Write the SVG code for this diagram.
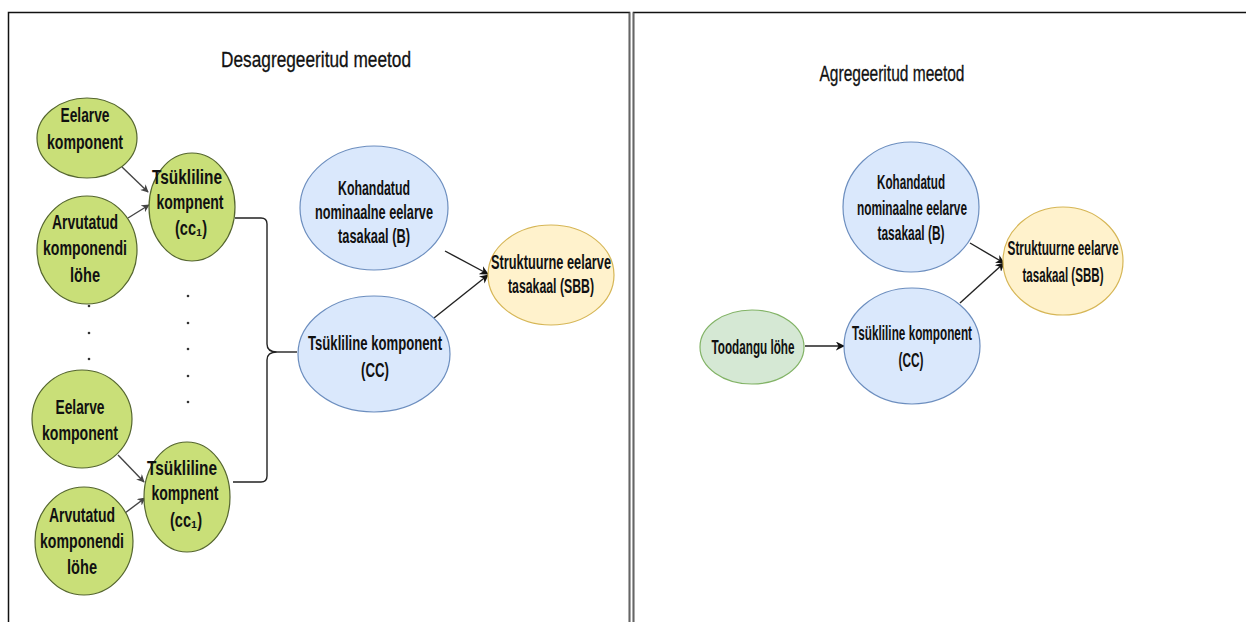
<svg xmlns="http://www.w3.org/2000/svg" width="1246" height="622" viewBox="0 0 1246 622">
<style>
.t{font-family:"Liberation Sans",Arial,sans-serif;font-size:20px;font-weight:bold;fill:#111;text-anchor:middle}
.title{font-family:"Liberation Sans",Arial,sans-serif;font-size:22px;fill:#111;text-anchor:middle;stroke:#111;stroke-width:0.3}
.lime{fill:#c9df78;stroke:#55662f;stroke-width:1.2}
.grn{fill:#d5e8d4;stroke:#82b366;stroke-width:1.2}
.blue{fill:#dae8fc;stroke:#6c8ebf;stroke-width:1.2}
.yel{fill:#fff2cc;stroke:#d6b656;stroke-width:1.2}
.ln{fill:none;stroke:#444;stroke-width:1.4}
.lnk{fill:none;stroke:#222;stroke-width:1.4}
.dot{fill:#333}
</style>
<defs>
<marker id="ah" viewBox="0 0 10 10" refX="9" refY="5" markerWidth="8" markerHeight="8" markerUnits="userSpaceOnUse" orient="auto">
<path d="M0,0 L10,5 L0,10 L3,5 z" fill="#444"/>
</marker>
<marker id="ahk" viewBox="0 0 10 10" refX="9" refY="5" markerWidth="9" markerHeight="9" markerUnits="userSpaceOnUse" orient="auto">
<path d="M0,0 L10,5 L0,10 L3,5 z" fill="#111"/>
</marker>
</defs>
<rect width="1246" height="622" fill="#fff"/>
<g id="frames">
<path d="M8.5,622 V12.5 H629.5 V622" fill="none" stroke="#111" stroke-width="1.5"/>
<path d="M629.5,12.5 V622" fill="none" stroke="#666" stroke-width="1.5"/>
<path d="M633.5,622 V12.5 H1246" fill="none" stroke="#111" stroke-width="1.5"/>
<path d="M633.5,12.5 V622" fill="none" stroke="#666" stroke-width="1.5"/>
</g>
<g id="titles">
<text class="title" x="316" y="67" textLength="190" lengthAdjust="spacingAndGlyphs">Desagregeeritud meetod</text>
<text class="title" x="892" y="81" textLength="145" lengthAdjust="spacingAndGlyphs">Agregeeritud meetod</text>
</g>
<g id="connectors">
<line class="ln" x1="122" y1="167" x2="148" y2="192" marker-end="url(#ah)"/>
<line class="ln" x1="128" y1="218" x2="149" y2="205" marker-end="url(#ah)"/>
<line class="ln" x1="118" y1="455" x2="144" y2="482" marker-end="url(#ah)"/>
<line class="ln" x1="125" y1="513" x2="145" y2="498" marker-end="url(#ah)"/>
<path class="lnk" d="M235,218 H261 Q267,218 267,224 V344 Q267,352 277,352 Q267,352 267,360 V476 Q267,482 261,482 H233"/>
<line class="lnk" x1="277" y1="352" x2="297" y2="352"/>
<line class="lnk" x1="445" y1="251" x2="488" y2="274" marker-end="url(#ahk)"/>
<line class="lnk" x1="434" y1="318" x2="488" y2="275" marker-end="url(#ahk)"/>
<line class="lnk" x1="805" y1="346" x2="844" y2="346" marker-end="url(#ahk)"/>
<line class="lnk" x1="970" y1="243" x2="1004" y2="263" marker-end="url(#ahk)"/>
<line class="lnk" x1="960" y1="303" x2="1004" y2="263" marker-end="url(#ahk)"/>
</g>
<g id="dots">
<circle class="dot" cx="89" cy="306" r="1.3"/>
<circle class="dot" cx="89" cy="333" r="1.3"/>
<circle class="dot" cx="89" cy="359" r="1.3"/>
<circle class="dot" cx="188" cy="296" r="1.3"/>
<circle class="dot" cx="188" cy="323" r="1.3"/>
<circle class="dot" cx="188" cy="349" r="1.3"/>
<circle class="dot" cx="188" cy="376" r="1.3"/>
<circle class="dot" cx="188" cy="402" r="1.3"/>
</g>
<g id="eelarve1">
<ellipse class="lime" cx="87" cy="138" rx="50" ry="40"/>
<text class="t" x="85" y="122" textLength="49" lengthAdjust="spacingAndGlyphs">Eelarve</text>
<text class="t" x="85" y="149" textLength="76" lengthAdjust="spacingAndGlyphs">komponent</text>
</g>
<g id="arvutatud1">
<ellipse class="lime" cx="87" cy="250" rx="50" ry="54"/>
<text class="t" x="85" y="229" textLength="66" lengthAdjust="spacingAndGlyphs">Arvutatud</text>
<text class="t" x="85" y="255" textLength="84" lengthAdjust="spacingAndGlyphs">komponendi</text>
<text class="t" x="85" y="282" textLength="30" lengthAdjust="spacingAndGlyphs">löhe</text>
</g>
<g id="tsykliline1">
<ellipse class="lime" cx="192" cy="207" rx="43" ry="54"/>
<text class="t" x="187" y="184" textLength="70" lengthAdjust="spacingAndGlyphs">Tsükliline</text>
<text class="t" x="190" y="209" textLength="67" lengthAdjust="spacingAndGlyphs">kompnent</text>
<text class="t" x="191" y="235" textLength="32" lengthAdjust="spacingAndGlyphs">(cc₁)</text>
</g>
<g id="eelarve2">
<ellipse class="lime" cx="82" cy="419" rx="50" ry="49"/>
<text class="t" x="80" y="414" textLength="49" lengthAdjust="spacingAndGlyphs">Eelarve</text>
<text class="t" x="80" y="440" textLength="76" lengthAdjust="spacingAndGlyphs">komponent</text>
</g>
<g id="arvutatud2">
<ellipse class="lime" cx="84" cy="541" rx="49" ry="54"/>
<text class="t" x="82" y="522" textLength="66" lengthAdjust="spacingAndGlyphs">Arvutatud</text>
<text class="t" x="82" y="548" textLength="84" lengthAdjust="spacingAndGlyphs">komponendi</text>
<text class="t" x="82" y="574" textLength="30" lengthAdjust="spacingAndGlyphs">löhe</text>
</g>
<g id="tsykliline2">
<ellipse class="lime" cx="187" cy="497" rx="43" ry="55"/>
<text class="t" x="182" y="475" textLength="70" lengthAdjust="spacingAndGlyphs">Tsükliline</text>
<text class="t" x="185" y="500" textLength="67" lengthAdjust="spacingAndGlyphs">kompnent</text>
<text class="t" x="186" y="527" textLength="32" lengthAdjust="spacingAndGlyphs">(cc₁)</text>
</g>
<g id="kohandatud-left">
<ellipse class="blue" cx="374" cy="208" rx="74" ry="62"/>
<text class="t" x="374" y="195" textLength="72" lengthAdjust="spacingAndGlyphs">Kohandatud</text>
<text class="t" x="374" y="219" textLength="118" lengthAdjust="spacingAndGlyphs">nominaalne eelarve</text>
<text class="t" x="374" y="243" textLength="72" lengthAdjust="spacingAndGlyphs">tasakaal (B)</text>
</g>
<g id="cc-left">
<ellipse class="blue" cx="374" cy="354" rx="76" ry="58"/>
<text class="t" x="375" y="350" textLength="134" lengthAdjust="spacingAndGlyphs">Tsükliline komponent</text>
<text class="t" x="375" y="377" textLength="28" lengthAdjust="spacingAndGlyphs">(CC)</text>
</g>
<g id="sbb-left">
<ellipse class="yel" cx="551" cy="275" rx="63" ry="50"/>
<text class="t" x="551" y="269" textLength="120" lengthAdjust="spacingAndGlyphs">Struktuurne eelarve</text>
<text class="t" x="551" y="293" textLength="86" lengthAdjust="spacingAndGlyphs">tasakaal (SBB)</text>
</g>
<g id="kohandatud-right">
<ellipse class="blue" cx="911" cy="207" rx="68" ry="65"/>
<text class="t" x="911" y="189" textLength="68" lengthAdjust="spacingAndGlyphs">Kohandatud</text>
<text class="t" x="912" y="215" textLength="110" lengthAdjust="spacingAndGlyphs">nominaalne eelarve</text>
<text class="t" x="911" y="240" textLength="67" lengthAdjust="spacingAndGlyphs">tasakaal (B)</text>
</g>
<g id="sbb-right">
<ellipse class="yel" cx="1063" cy="261" rx="60" ry="54"/>
<text class="t" x="1063" y="255" textLength="111" lengthAdjust="spacingAndGlyphs">Struktuurne eelarve</text>
<text class="t" x="1063" y="282" textLength="81" lengthAdjust="spacingAndGlyphs">tasakaal (SBB)</text>
</g>
<g id="cc-right">
<ellipse class="blue" cx="912" cy="346" rx="68" ry="58"/>
<text class="t" x="912" y="340" textLength="120" lengthAdjust="spacingAndGlyphs">Tsükliline komponent</text>
<text class="t" x="911" y="367" textLength="25" lengthAdjust="spacingAndGlyphs">(CC)</text>
</g>
<g id="toodangu">
<ellipse class="grn" cx="752" cy="347" rx="52" ry="37"/>
<text class="t" x="753" y="354" textLength="83" lengthAdjust="spacingAndGlyphs">Toodangu löhe</text>
</g>
</svg>
